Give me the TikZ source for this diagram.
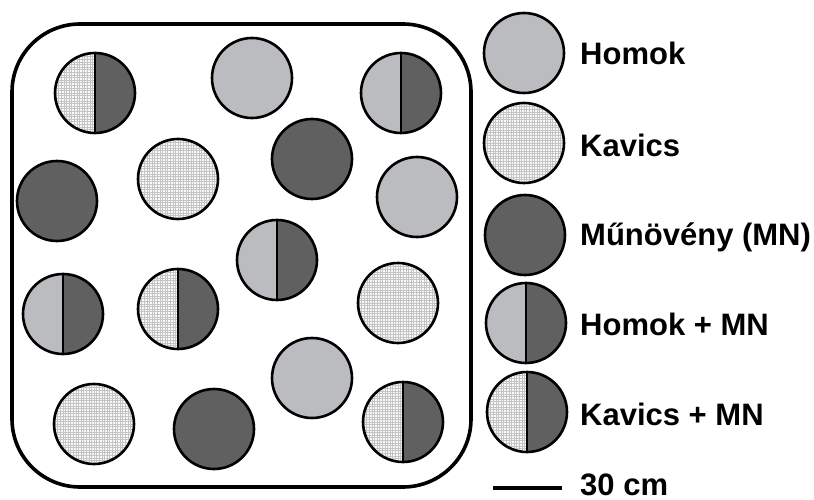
\documentclass[tikz,border=0pt]{standalone}
\usepackage{fontspec}
\setmainfont{Liberation Sans}
\definecolor{sandc}{RGB}{187,188,192}
\definecolor{mnc}{RGB}{96,96,96}
\definecolor{kavc}{RGB}{250,250,250}
\definecolor{gridc}{RGB}{196,196,196}
\tikzset{
  ball/.style={circle, draw=black, line width=2.6, minimum size=80, inner sep=0},
  homok/.style={ball, fill=sandc},
  mn/.style={ball, fill=mnc},
  kavics/.style={ball, fill=kavc, path picture={
      \draw[gridc, line width=0.3pt, step=2.6pt]
        ([shift={(-2,-2)}]path picture bounding box.south west) grid
        ([shift={(2,2)}]path picture bounding box.north east);}},
  homokmn/.style={ball, path picture={
      \fill[sandc] (path picture bounding box.south west) rectangle (path picture bounding box.north);
      \fill[mnc] (path picture bounding box.south) rectangle (path picture bounding box.north east);
      \draw[black, line width=2.2] (path picture bounding box.north) -- (path picture bounding box.south);}},
  kavicsmn/.style={ball, path picture={
      \fill[kavc] (path picture bounding box.south west) rectangle (path picture bounding box.north);
      \begin{scope}
      \clip (path picture bounding box.south west) rectangle (path picture bounding box.north);
      \draw[gridc, line width=0.3pt, step=2.6pt]
        ([shift={(-2,-2)}]path picture bounding box.south west) grid
        ([shift={(2,2)}]path picture bounding box.north east);
      \end{scope}
      \fill[mnc] (path picture bounding box.south) rectangle (path picture bounding box.north east);
      \draw[black, line width=2.2] (path picture bounding box.north) -- (path picture bounding box.south);}},
  lbl/.style={anchor=base west, inner sep=0, font=\fontsize{31}{36}\selectfont\bfseries},
}
\begin{document}
\begin{tikzpicture}[x=1pt, y=-1pt]
\useasboundingbox (0,0) rectangle (814,500);
% frame
\draw[line width=3.6, rounded corners=68] (12,24) rectangle (471,487);
% circles in frame
\node[kavicsmn] (c1) at (95,93) {};
\node[homok] (c2) at (252,78) {};
\node[homokmn] (c3) at (401,93) {};
\node[mn] (c4) at (57,201) {};
\node[kavics] (c5) at (178,179) {};
\node[mn] (c6) at (312,159) {};
\node[homok] (c7) at (417,197) {};
\node[homokmn] (c8) at (277,260) {};
\node[homokmn] (c9) at (63,314) {};
\node[kavicsmn] (c10) at (178,309) {};
\node[kavics] (c11) at (398,303) {};
\node[homok] (c12) at (312,378) {};
\node[kavics] (c13) at (94,424) {};
\node[mn] (c14) at (214,429) {};
\node[kavicsmn] (c15) at (403,422) {};
% legend
\node[homok] (l1) at (524,53) {};
\node[kavics] (l2) at (524,143) {};
\node[mn] (l3) at (525,235) {};
\node[homokmn] (l4) at (526,323) {};
\node[kavicsmn] (l5) at (527,412) {};
\node[lbl] (t1) at (580,65) {Homok};
\node[lbl] (t2) at (580,157) {Kavics};
\node[lbl] (t3) at (580,245) {Műnövény (MN)};
\node[lbl] (t4) at (580,335) {Homok + MN};
\node[lbl] (t5) at (580,425) {Kavics + MN};
% scale bar
\coordinate (s1) at (493,488);
\coordinate (s2) at (562,488);
\draw[line width=4] (s1) -- (s2);
\node[lbl] (t6) at (580,495) {30 cm};
\end{tikzpicture}
\end{document}
